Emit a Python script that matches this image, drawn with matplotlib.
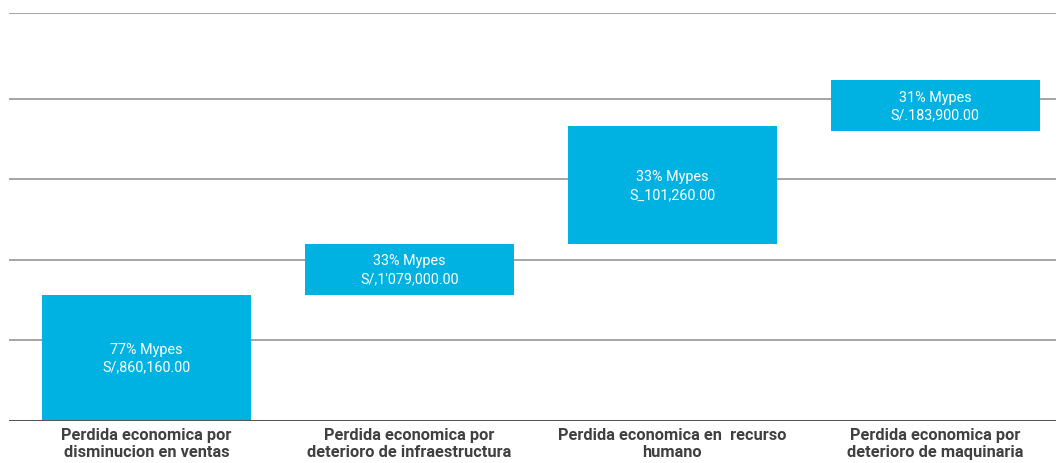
import matplotlib.pyplot as plt

plt.rcParams['font.family'] = ['Roboto', 'DejaVu Sans']

categories = ['Perdida economica por\ndisminucion en ventas',
              'Perdida economica por\ndeterioro de infraestructura',
              'Perdida economica en  recurso\nhumano',
              'Perdida economica por\ndeterioro de maquinaria']
bar_bottom = [0, 1.56, 2.2, 3.6]
bar_top = [1.56, 2.2, 3.66, 4.24]
labels = ['77% Mypes\nS/,860,160.00',
          '33% Mypes\nS/,1\'079,000.00',
          '33% Mypes\nS_101,260.00',
          '31% Mypes\nS/.183,900.00']
grid_levels = [1, 2, 3, 4, 5.07]

fig = plt.figure(figsize=(10.56, 4.64), dpi=100)
ax = fig.add_axes([9/1056, (464-421.5)/464, 1-9/1056, (421.5-14)/464])

x = range(len(categories))
heights = [t - b for t, b in zip(bar_top, bar_bottom)]
ax.bar(x, heights, bottom=bar_bottom, width=0.795, color='#00b2e2', zorder=3)

for xi, b, t, lab in zip(x, bar_bottom, bar_top, labels):
    ax.text(xi, (b + t) / 2, lab, ha='center', va='center', color='white',
            fontsize=10.4, linespacing=1.35, zorder=4)

for g in grid_levels:
    ax.axhline(g, color='#8c8c8c', lw=1.1, zorder=1)
ax.axhline(0, color='#555555', lw=2.2, zorder=5)

ax.set_xlim(-0.523, 3.46)
ax.set_ylim(0, 5.07)
ax.set_xticks(list(x))
ax.set_xticklabels(categories, fontsize=11.8, fontweight='bold', color='#404040',
                   linespacing=1.12)
ax.tick_params(axis='x', length=0, pad=5)
ax.set_yticks([])
for s in ax.spines.values():
    s.set_visible(False)

fig.savefig('out.png', dpi=100)
